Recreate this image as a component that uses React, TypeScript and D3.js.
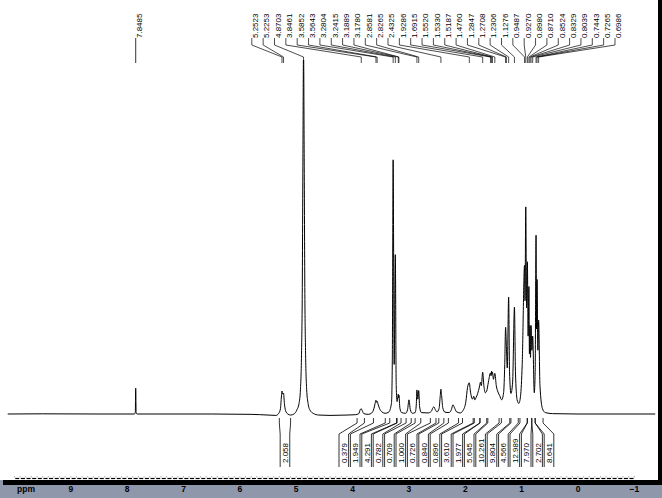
import React from "react";
import * as d3 from "d3";

const W = 662;
const H = 498;

// Spectrum trace: [ppm, relative intensity]
const trace: [number, number][] = [
  [10.12, 0], [9.5, 0.05], [8.5, 0], [7.875, 0], [7.856, 0.3], [7.8485, 7.3], [7.841, 0.3], [7.82, 0],
  [6.5, 0], [5.8, -0.1], [5.5, -0.3], [5.36, -0.4], [5.31, 0.2], [5.28, 1.5], [5.265, 4.5], [5.2523, 6.5],
  [5.24, 5.6], [5.2253, 5.9], [5.21, 3.0], [5.19, 1.0], [5.15, 0.0], [5.1, -0.3], [5.04, 0], [4.99, 1.1],
  [4.95, 3], [4.925, 7], [4.905, 18], [4.893, 34], [4.882, 70], [4.8703, 103], [4.858, 70], [4.847, 34],
  [4.835, 18], [4.815, 7], [4.79, 3], [4.756, 1.1], [4.7, 0.2], [4.6, -0.3],
  [4.4, -0.4], [4.1, -0.3], [3.95, -0.2], [3.89, 0.1], [3.865, 1.2], [3.8461, 1.5], [3.83, 1.0], [3.8, 0.1],
  [3.72, -0.1], [3.66, 0.3], [3.62, 1.6], [3.6, 3.0], [3.5852, 3.9], [3.575, 3.3], [3.5643, 3.6], [3.545, 2.6],
  [3.52, 1.5], [3.48, 0.6], [3.42, 0.2], [3.36, 0.5], [3.31, 3], [3.295, 15], [3.2804, 71.8], [3.262, 14],
  [3.2415, 45], [3.226, 8], [3.21, 3.5], [3.1889, 5.6], [3.183, 4.6], [3.178, 5.3], [3.16, 1.6], [3.13, 0.4],
  [3.06, 0.2], [3.025, 1.2], [2.999, 4.0], [2.975, 1.2], [2.94, 0.2], [2.89, 0.4], [2.87, 2.5], [2.8581, 6.8],
  [2.842, 4.2], [2.8265, 6.6], [2.81, 2.0], [2.78, 0.4], [2.66, 0.3], [2.6, 0.8], [2.575, 1.8], [2.555, 2.0],
  [2.535, 1.3], [2.5, 0.6], [2.465, 1.6], [2.445, 5.0], [2.4325, 7.0], [2.42, 5.2], [2.4, 1.8], [2.36, 0.5],
  [2.29, 0.4], [2.245, 1.3], [2.22, 2.6], [2.195, 1.9], [2.16, 0.7], [2.09, 0.3], [2.04, 1.0], [1.99, 3.5],
  [1.96, 7.5], [1.9286, 8.8], [1.91, 6.5], [1.89, 4.8], [1.87, 4.2], [1.85, 5.0], [1.83, 4.0], [1.81, 4.6],
  [1.78, 5.8], [1.75, 7.6], [1.73, 9.0], [1.715, 8.0], [1.6915, 11.8], [1.67, 8.0], [1.645, 6.0], [1.62, 6.5],
  [1.59, 9.0], [1.552, 11.6], [1.543, 10.8], [1.533, 12.1], [1.526, 11.2], [1.5187, 11.8], [1.5, 9.8], [1.476, 11.5],
  [1.45, 8.0], [1.42, 6.2], [1.39, 5.2], [1.354, 4.0], [1.32, 6.0], [1.3, 14], [1.2847, 24.5], [1.2708, 19],
  [1.255, 13], [1.2306, 33], [1.215, 12], [1.19, 5.8], [1.16, 9], [1.1276, 30.2], [1.11, 12], [1.08, 4],
  [1.05, 3.0], [1.02, 5], [0.99, 14], [0.9487, 42], [0.94, 32], [0.927, 58.5], [0.912, 30], [0.898, 43],
  [0.885, 22], [0.871, 36], [0.862, 17], [0.8524, 25], [0.843, 16], [0.8329, 25], [0.818, 18], [0.8039, 22],
  [0.776, 6], [0.76, 12], [0.7443, 50.5], [0.736, 24], [0.7265, 38], [0.712, 18], [0.6986, 26.5], [0.675, 8],
  [0.63, 1.5], [0.58, 0.4], [0.45, 0.1], [0.0, 0], [-1.37, 0],
];

// Peak-pick labels (ppm)
const isolatedPeaks = [7.8485];
const groupPeaks = [
  5.2523, 5.2253, 4.8703, 3.8461, 3.5852, 3.5643, 3.2804, 3.2415, 3.1889, 3.178, 2.8581, 2.8265,
  2.4325, 1.9286, 1.6915, 1.552, 1.533, 1.5187, 1.476, 1.2847, 1.2708, 1.2306, 1.1276, 0.9487,
  0.927, 0.898, 0.871, 0.8524, 0.8329, 0.8039, 0.7443, 0.7265, 0.6986,
];

// Integral regions (ppm) and values
const integralFrom = [5.30, 3.92, 3.63, 3.34, 3.21, 3.05, 2.89, 2.62, 2.47, 2.30, 2.05, 1.84, 1.74, 1.60, 1.36, 1.19, 1.03, 0.90, 0.82, 0.76];
const integralTo = [5.10, 3.79, 3.42, 3.22, 3.14, 2.96, 2.79, 2.52, 2.38, 2.12, 1.86, 1.74, 1.62, 1.40, 1.21, 1.06, 0.90, 0.82, 0.76, 0.62];
const integralValues = [2.058, 0.379, 1.949, 4.291, 0.782, 0.709, 1.0, 0.726, 0.84, 0.896, 3.61, 1.977, 5.645, 10.261, 9.804, 4.566, 12.989, 7.97, 2.702, 8.641];

// Axis
const axisTicks = [9, 8, 7, 6, 5, 4, 3, 2, 1, 0, -1];
const axisUnit = "ppm";
const minorStart = 10;
const minorEnd = -1;
const minorStep = 0.1;

function spreadLabels(desired: number[], gap: number, maxX: number): number[] {
  type C = { i0: number; n: number; sum: number; start: number };
  const place = (c: C) => {
    let s = c.sum / c.n - ((c.n - 1) * gap) / 2;
    s = Math.min(s, maxX - (c.n - 1) * gap);
    c.start = s;
  };
  let cs: C[] = desired.map((d, i) => {
    const c: C = { i0: i, n: 1, sum: d, start: d };
    place(c);
    return c;
  });
  let merged = true;
  while (merged) {
    merged = false;
    for (let k = 0; k < cs.length - 1; k++) {
      const a = cs[k];
      const b = cs[k + 1];
      if (a.start + a.n * gap > b.start + 1e-9) {
        const c: C = { i0: a.i0, n: a.n + b.n, sum: a.sum + b.sum, start: 0 };
        place(c);
        cs.splice(k, 2, c);
        merged = true;
        break;
      }
    }
  }
  const out: number[] = new Array(desired.length);
  cs.forEach((c) => {
    for (let j = 0; j < c.n; j++) out[c.i0 + j] = c.start + j * gap;
  });
  return out;
}

export default function App() {
  const x = d3.scaleLinear().domain([10.12, -1.37]).range([7.7, 655.2]);
  const y = d3.scaleLinear().domain([0, 100]).range([414, 60]);

  const pts = trace.map(([p, v]) => [x(p), y(v)] as [number, number]).sort((a, b) => a[0] - b[0]);
  const linePath = d3.line().curve(d3.curveMonotoneX)(pts) || "";

  // Top peak labels
  const groupDesired = groupPeaks.map((p) => x(p));
  const groupSlots = spreadLabels(groupDesired, 11.35, 615);

  // Integral labels
  const intCenters = integralFrom.map((f, i) => (x(f) + x(integralTo[i])) / 2);
  const intSlots = spreadLabels(intCenters, 11.4, 549);
  const half = 4.8;

  const minorTicks = d3.range(Math.round((minorStart - minorEnd) / minorStep) + 1).map((i) => minorStart - i * minorStep);

  const font = "'Liberation Sans', Arial, sans-serif";

  return (
    <svg width={W} height={H} style={{ position: "absolute", left: 0, top: 0, display: "block" }} xmlns="http://www.w3.org/2000/svg">
      <rect x={0} y={0} width={W} height={H} fill="#ffffff" />
      <defs>
        <clipPath id="plotclip">
          <rect x={0} y={60} width={W} height={380} />
        </clipPath>
      </defs>

      {/* spectrum */}
      <path d={linePath} fill="none" stroke="#000" strokeWidth={1} clipPath="url(#plotclip)" />

      {/* isolated peak labels */}
      {isolatedPeaks.map((p, i) => {
        const px = x(p);
        return (
          <g key={"ip" + i}>
            <line x1={px} y1={38} x2={px} y2={63} stroke="#000" strokeWidth={0.8} />
            <text transform={`translate(${px + 6.3},38) rotate(-90)`} fontSize={8} fontFamily={font} fill="#000">
              {p.toFixed(4)}
            </text>
          </g>
        );
      })}

      {/* grouped peak labels */}
      {groupPeaks.map((p, i) => {
        const px = x(p);
        const lx = groupSlots[i];
        return (
          <g key={"gp" + i}>
            <path d={`M${lx},38 L${lx},45 L${px},57 L${px},63`} fill="none" stroke="#000" strokeWidth={0.7} />
            <text transform={`translate(${lx + 6.3},38) rotate(-90)`} fontSize={8} fontFamily={font} fill="#000">
              {p.toFixed(4)}
            </text>
          </g>
        );
      })}

      {/* integrals */}
      {integralValues.map((v, i) => {
        const xa = x(integralFrom[i]);
        const xb = x(integralTo[i]);
        const c = intSlots[i];
        return (
          <g key={"int" + i}>
            <path d={`M${xa},418 L${xa},423 L${c - half},434 L${c - half},467`} fill="none" stroke="#000" strokeWidth={0.8} />
            <path d={`M${xb},418 L${xb},423 L${c + half},434 L${c + half},467`} fill="none" stroke="#000" strokeWidth={0.8} />
            <text transform={`translate(${c + 3},463) rotate(-90)`} fontSize={8} fontFamily={font} fill="#000">
              {v.toFixed(3)}
            </text>
          </g>
        );
      })}

      {/* axis dashes */}
      {minorTicks.slice(0, -1).map((t, i) => {
        const x1 = x(t);
        const x2 = x(t - minorStep);
        return <line key={"dash" + i} x1={x1 + 0.8} x2={x2 - 0.8} y1={478.5} y2={478.5} stroke="#000" strokeWidth={1.2} />;
      })}
      {minorTicks.map((t, i) => (
        <line key={"mt" + i} x1={x(t)} x2={x(t)} y1={476} y2={477.5} stroke="#999" strokeWidth={0.8} />
      ))}

      {/* bottom bands */}
      <rect x={0} y={480} width={W} height={H - 480} fill="#8f97ab" />
      <rect x={3} y={480} width={W - 3} height={5} fill="#000" />
      <rect x={658} y={0} width={4} height={485} fill="#000" />

      <text x={17} y={492} fontSize={8.5} fontWeight="bold" fontFamily={font} fill="#000">
        {axisUnit}
      </text>
      {axisTicks.map((t) => (
        <text key={"tl" + t} x={x(t)} y={492} fontSize={8.5} fontWeight="bold" fontFamily={font} fill="#000" textAnchor="middle">
          {t < 0 ? "\u2212" + Math.abs(t) : String(t)}
        </text>
      ))}
    </svg>
  );
}
